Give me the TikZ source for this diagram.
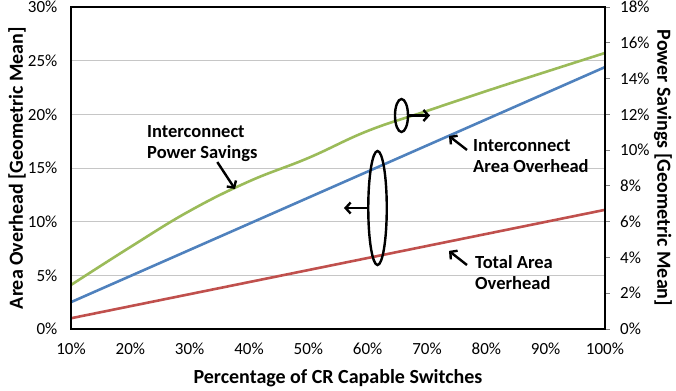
\documentclass[tikz,border=0pt]{standalone}
\usepackage{fontspec}
\setmainfont{Carlito}
\usetikzlibrary{arrows.meta,shapes.geometric}

\definecolor{powergreen}{RGB}{155,187,89}
\definecolor{areablue}{RGB}{79,129,189}
\definecolor{areared}{RGB}{192,80,77}

\begin{document}
\begin{tikzpicture}[x=5.9333pt,y=10.7333pt,
        grid/.style={gray!45,line width=0.9pt},
        series/.style={line width=2.6pt,line join=round},
        note/.style={font=\fontsize{18.5}{21.5}\selectfont\bfseries,align=left,inner sep=0pt},
        callout/.style={-{Straight Barb[length=5pt,width=11pt]},line width=2.4pt},
        ring/.style={draw,ellipse,line width=2.4pt,inner sep=0pt},
        ticklabel/.style={font=\fontsize{17}{19}\selectfont,inner sep=0pt},
        axistitle/.style={font=\fontsize{20}{23}\selectfont\bfseries,inner sep=0pt}]

  \useasboundingbox (-1.97,-5.777) rectangle (111.97,30.652);

  % gridlines and tick labels
  \foreach \v in {5,10,...,25}
    \draw[grid] (10,\v) -- (100,\v);
  \foreach \v in {0,5,...,30}
    \node[ticklabel,anchor=east] (l\v) at ([xshift=-13.5pt]10,\v) {\v\%};
  \foreach \p in {10,20,...,100}
    \node[ticklabel] (b\p) at ([yshift=-20pt]\p,0) {\p\%};
  \foreach \w in {0,2,...,18} {
    \draw[gray,line width=0.8pt] (100,\w*5/3) -- ++(5pt,0);
    \node[ticklabel,anchor=west] (r\w) at ([xshift=15pt]100,\w*5/3) {\w\%};
  }

  % data
  \draw[series,areared] (10,1.0) -- (100,11.1);
  \draw[series,areablue] (10,2.5) -- (100,24.4);
  \begin{scope}[y=17.889pt]
    \draw[series,powergreen] plot[smooth,tension=0.7] coordinates
      {(10,2.46) (20,4.58) (30,6.6) (40,8.25) (50,9.56)
       (60,11.07) (70,12.19) (80,13.30) (90,14.37) (100,15.43)};
  \end{scope}

  \draw[line width=2.6pt] (10,0) rectangle (100,30);

  % axis titles
  \node[axistitle,rotate=90] (ytitle) at ([xshift=-54pt]10,15) {Area Overhead [Geometric Mean]};
  \node[axistitle,rotate=-90] (rtitle) at ([xshift=58pt]100,15) {Power Savings [Geometric Mean]};
  \node[axistitle] (xtitle) at ([yshift=-49pt]55,0) {Percentage of CR Capable Switches};

  % annotations
  \node[note,anchor=west] (pwr) at (22.81,17.28) {Interconnect\\Power Savings};
  \node[note,anchor=west] (ovh) at (77.75,16.12) {Interconnect\\Area Overhead};
  \node[note,anchor=west] (tot) at (78.09,5.26) {Total Area\\Overhead};

  \coordinate (pwrtip) at (37.64,13.04);
  \coordinate (ovhtip) at (73.71,17.98);
  \coordinate (tottip) at (73.71,7.27);
  \draw[callout] ([xshift=15pt]pwr.south) -- (pwrtip);
  \draw[callout] ([xshift=-6pt,yshift=6pt]ovh.west) -- (ovhtip);
  \draw[callout] ([xshift=-8pt,yshift=7.5pt]tot.west) -- (tottip);

  \node[ring,minimum width=13pt,minimum height=33pt] (pring) at (65.70,19.89) {};
  \node[ring,minimum width=18.5pt,minimum height=114pt] (aring) at (61.66,11.27) {};
  \coordinate (ptip) at (70.51,19.89);
  \coordinate (atip) at (56.01,11.27);
  \draw[callout] (pring.east) -- (ptip);
  \draw[callout] (aring.west) -- (atip);

\end{tikzpicture}
\end{document}
